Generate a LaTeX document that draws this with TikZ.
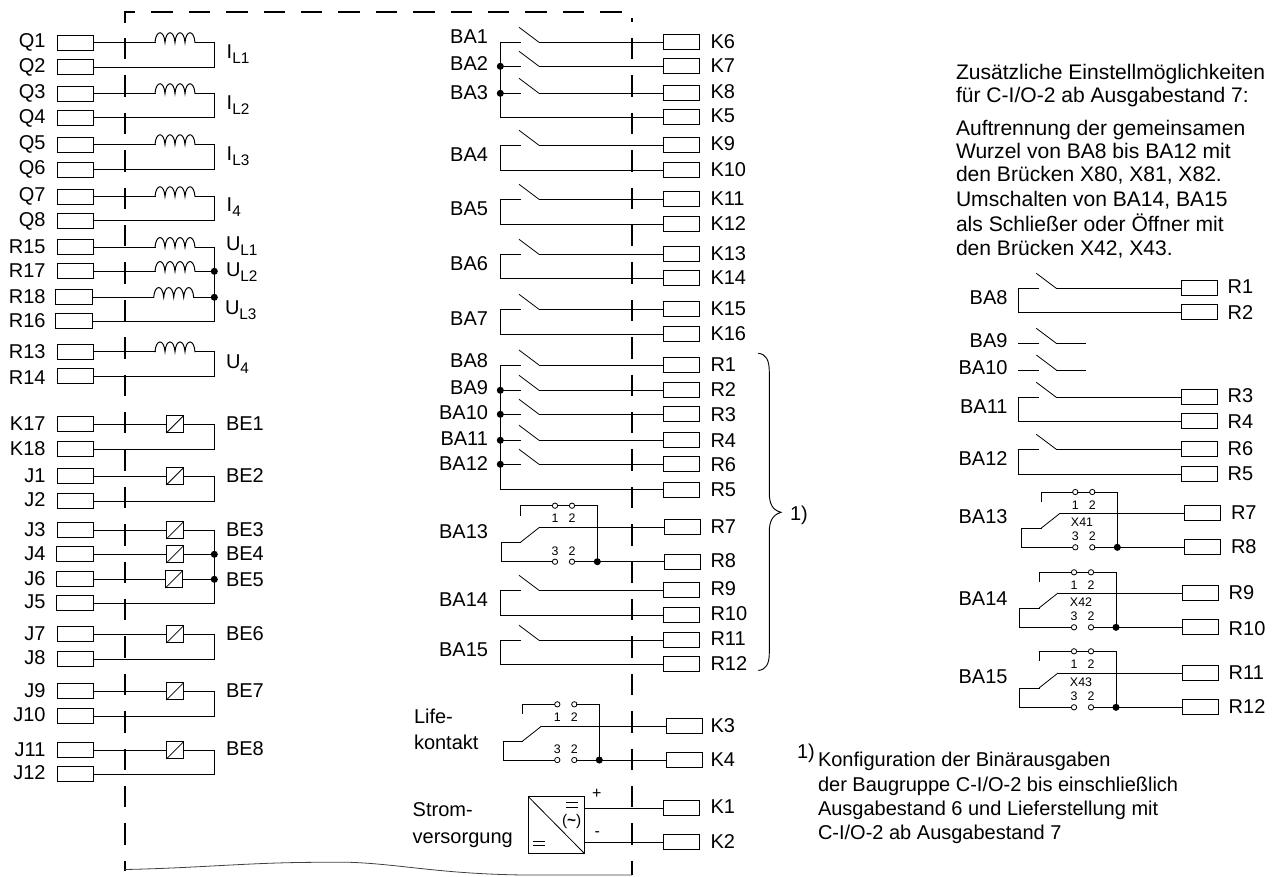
\documentclass[tikz,border=0pt]{standalone}
\usepackage{fontspec}
\setmainfont{Liberation Sans}
\newcommand{\lsize}{\fontsize{15pt}{18pt}\selectfont}
\newcommand{\nsub}[1]{\raisebox{-3.8pt}{\fontsize{11.5pt}{12pt}\selectfont #1}}
\tikzset{
  wire/.style={line width=0.75pt,line cap=rect},
  fine/.style={line width=0.6pt},
  frame/.style={line width=1.5pt,dash pattern=on 16.1pt off 11.95pt},
  term/.style={draw,line width=0.75pt,inner sep=0pt,outer sep=0pt,minimum width=27.4pt,minimum height=11.25pt},
  conv/.style={draw,line width=0.75pt,inner sep=0pt,outer sep=0pt,minimum size=13pt},
  jdot/.style={circle,fill=black,inner sep=0pt,outer sep=0pt,minimum size=5.3pt},
  ring/.style={circle,draw,fill=white,line width=0.6pt,inner sep=0pt,outer sep=0pt,minimum size=4pt},
  lab/.style={inner sep=0pt,outer sep=0pt,font=\lsize},
  labw/.style={lab,anchor=base west},
  labe/.style={lab,anchor=base east},
  note/.style={inner sep=0pt,outer sep=0pt,anchor=base west,font=\fontsize{15.8pt}{18pt}\selectfont},
  num/.style={inner sep=0pt,outer sep=0pt,anchor=base,font=\fontsize{9.3pt}{10pt}\selectfont}
}
% inductor: two named coordinates and four humps
\newcommand{\coil}[3]{%
  \coordinate (#1a) at (#2,#3);
  \coordinate (#1b) at (#2+40,#3);
  \draw[wire] (#1a) .. controls +(1,-13) and +(-1,-13) .. ++(10,0)
     .. controls +(1,-13) and +(-1,-13) .. ++(10,0)
     .. controls +(1,-13) and +(-1,-13) .. ++(10,0)
     .. controls +(1,-13) and +(-1,-13) .. ++(10,0);}
% make contact: #1 name, #2 blade root x, #3 row y, #4 terminal
\newcommand{\contact}[4]{%
  \coordinate (#1i) at (#2+1.7,#3);
  \coordinate (#1o) at (#2+20,#3);
  \coordinate (#1p) at (#2,#3-15);
  \draw[fine] (#1p) -- (#1o);
  \draw[wire] (#1o) -- (#4);}
% return loop: #1 contact name, #2 rail x, #3 row of return, #4 terminal
\newcommand{\loopback}[4]{%
  \coordinate (#1r) at (#2,#3);
  \draw[wire] (#1i) -| (#1r) -- (#4);}
% change-over: #1 name, #2 left x, #3 root x, #4 ring 1 x, #5 right x, #6 jumper y, #7 top row, #8 bottom row
\newcommand{\changeover}[8]{%
  \coordinate (#1j) at (#3,#6+9.5);
  \coordinate (#1m) at (#3,#7+15);
  \coordinate (#1t) at (#3+19,#7);
  \coordinate (#1l) at (#2,#7+15);
  \node[ring] (#1ua) at (#4,#6) {};
  \node[ring] (#1ub) at (#4+17,#6) {};
  \node[ring] (#1da) at (#4,#8) {};
  \node[ring] (#1db) at (#4+17,#8) {};
  \node[jdot] (#1dot) at (#5,#8) {};
  \coordinate (#1c) at (#3,#6);
  \coordinate (#1e) at (#5,#6);
  \draw[wire] (#1j) -- (#1c) -- (#1ua);
  \draw[wire] (#1ub) -- (#1e) -- (#1dot);
  \draw[wire] (#1m) -- (#1l) |- (#1da);
  \draw[wire] (#1db) -- (#1dot);
  \draw[fine] (#1m) -- (#1t);
  \node[num] (#1na) at (#4,#6+17) {1};
  \node[num] (#1nb) at (#4+17,#6+17) {2};
  \node[num] (#1nc) at (#4,#8-6.5) {3};
  \node[num] (#1nd) at (#4+17,#8-6.5) {2};}
\begin{document}
\begin{tikzpicture}[x=0.75pt,y=-0.75pt]
\useasboundingbox (0,0) rectangle (1274,876);

% --- housing frame
\draw[frame] (124.7,22.7) -- (124.7,12) -- (632,12) -- (632,22);
\draw[frame] (124.7,38) -- (124.7,870.7);
\draw[frame] (632,38) -- (632,875);
\draw[line width=0.6pt,black!75] (124.7,869.5) .. controls (200,868) and (250,862.3) .. (320,862.3) -- (350,862.3) .. controls (400,864) and (440,874) .. (525,875) -- (632,875);

% --- left terminals
\foreach \n/\y/\c/\b in {Q1/42.5/75.7/47.5,Q2/67.3/75.7/72.7,Q3/93.5/75.7/98.7,Q4/117.5/75.7/123,Q5/144.5/75.7/149.7,Q6/169.5/75.7/174.7,Q7/196.5/75.7/201.5,Q8/220.5/75.7/226,
  R15/247.3/75.7/253,R17/271.3/75.7/277,R18/297.3/73.8/303,R16/321/73.8/327.3,R13/351.7/75.7/358,R14/376.3/75.7/384,
  K17/424.3/75.7/430,K18/449.3/75.7/455,J1/476.3/75.7/482,J2/501.3/75.7/506,J3/530.3/75.7/536,J4/554.3/75/560.3,J6/579.3/75/585.3,J5/603.3/75/608.3,
  J7/634.3/75.7/640,J8/659.3/75.7/664.7,J9/691.3/75.7/697.3,J10/716.3/75.7/721.7,J11/750.3/75.7/756,J12/774.3/75.7/779.7}
{ \node[term] (tL\n) at (\c,\y) {};
  \node[labe] (lL\n) at (45.5,\b) {\n}; }

% --- current / voltage inputs
\coil{cQ1}{155}{42.5}  \coil{cQ3}{155}{93.5}  \coil{cQ5}{155}{144.5} \coil{cQ7}{155}{196.5}
\coil{cRa}{155}{247.3} \coil{cRb}{155}{271.3} \coil{cRc}{153.7}{297.3} \coil{cRd}{155}{351.7}
\draw[wire] (tLQ1.east) -- (cQ1a);
\draw[wire] (tLQ3.east) -- (cQ3a);
\draw[wire] (tLQ5.east) -- (cQ5a);
\draw[wire] (tLQ7.east) -- (cQ7a);
\draw[wire] (tLR15.east) -- (cRaa);
\draw[wire] (tLR17.east) -- (cRba);
\draw[wire] (tLR18.east) -- (cRca);
\draw[wire] (tLR13.east) -- (cRda);
\coordinate (rQa) at (214.3,67.3);  \draw[wire] (cQ1b) -| (rQa) -- (tLQ2.east);
\coordinate (rQb) at (214.3,117.5); \draw[wire] (cQ3b) -| (rQb) -- (tLQ4.east);
\coordinate (rQc) at (214.3,169.5); \draw[wire] (cQ5b) -| (rQc) -- (tLQ6.east);
\coordinate (rQd) at (214.3,220.5); \draw[wire] (cQ7b) -| (rQd) -- (tLQ8.east);
\coordinate (rRa) at (214.3,321);   \draw[wire] (cRab) -| (rRa) -- (tLR16.east);
\coordinate (rRd) at (214.3,376.3); \draw[wire] (cRdb) -| (rRd) -- (tLR14.east);
\node[jdot] (dRb) at (214.3,271.3) {};
\node[jdot] (dRc) at (214.3,297.3) {};
\draw[wire] (cRbb) -- (dRb);
\draw[wire] (cRcb) -- (dRc);

\node[labw] (nIa) at (226.7,58) {I\nsub{L1}};
\node[labw] (nIb) at (226.7,109) {I\nsub{L2}};
\node[labw] (nIc) at (226.7,160.7) {I\nsub{L3}};
\node[labw] (nId) at (226.7,211.7) {I\nsub{4}};
\node[labw] (nUa) at (226,250) {U\nsub{L1}};
\node[labw] (nUb) at (226,276.7) {U\nsub{L2}};
\node[labw] (nUc) at (225,314) {U\nsub{L3}};
\node[labw] (nUd) at (226,368.3) {U\nsub{4}};

% --- binary inputs
\foreach \n/\t/\x/\y in {a/K17/175/424.3,b/J1/175/476.3,c/J3/175/530.3,d/J4/175/554.3,e/J6/174/579.3,f/J7/175/634.3,g/J9/175/691.3,h/J11/175/750.3}
{ \node[conv] (b\n) at (\x,\y) {};
  \draw[fine] (b\n.south west) -- (b\n.north east);
  \draw[wire] (tL\t.east) -- (b\n.west); }
\coordinate (rBa) at (214.3,449.3); \draw[wire] (ba.east) -| (rBa) -- (tLK18.east);
\coordinate (rBb) at (214.3,501.3); \draw[wire] (bb.east) -| (rBb) -- (tLJ2.east);
\coordinate (rBc) at (214.3,603.3); \draw[wire] (bc.east) -| (rBc) -- (tLJ5.east);
\coordinate (rBf) at (214.3,659.3); \draw[wire] (bf.east) -| (rBf) -- (tLJ8.east);
\coordinate (rBg) at (214.3,716.3); \draw[wire] (bg.east) -| (rBg) -- (tLJ10.east);
\coordinate (rBh) at (214.3,774.3); \draw[wire] (bh.east) -| (rBh) -- (tLJ12.east);
\node[jdot] (dBd) at (214.3,554.3) {};
\node[jdot] (dBe) at (214.3,579.3) {};
\draw[wire] (bd.east) -- (dBd);
\draw[wire] (be.east) -- (dBe);
\foreach \n/\b in {1/430,2/482.7,3/536.7,4/560.7,5/586,6/640,7/697.3,8/755}
{ \node[labw] (nBE\n) at (226,\b) {BE\n}; }

% --- middle terminals
\foreach \n/\y/\c/\b in {K6/42.3/681.3/48,K7/66.3/681.3/72.3,K8/93.3/681.3/98.3,K5/117.3/681.3/122,K9/145.3/681.3/150.5,K10/170.3/681.3/176,K11/199.3/681.3/205,K12/224.3/681.3/230,
  K13/254.3/681.3/260,K14/278.3/681.3/284,K15/309.3/681.3/315,K16/334/681.3/340,
  R1/365/681.3/371.7,R2/390.3/681.3/396,R3/414.3/681.3/421.7,R4/440.3/681.3/447.3,R6/464.3/681.3/471.7,R5/489.7/681.3/496.7,
  R7/527.3/682.3/533.3,R8/561.7/682.3/567.3,R9/590.3/681.3/595,R10/615.3/681.3/620.7,R11/640.3/681.3/645,R12/664.3/681.3/670.7,
  K3/726.3/684.7/732.7,K4/760/684.7/766,K1/808.3/681.7/813.3,K2/842.3/681.7/848.3}
{ \node[term] (tM\n) at (\c,\y) {};
  \node[labw] (lM\n) at (710.5,\b) {\n}; }

% --- relay outputs, first group
\contact{ca}{519}{42.3}{tMK6.west}
\contact{cb}{519}{66.3}{tMK7.west}
\contact{cc}{519}{93.3}{tMK8.west}
\coordinate (ratop) at (500.3,42.3);
\coordinate (rabot) at (500.3,117.3);
\draw[wire] (cai) -- (ratop) -- (rabot) -- (tMK5.west);
\node[jdot] (dca) at (500.3,66.3) {};
\node[jdot] (dcb) at (500.3,93.3) {};
\draw[wire] (dca) -- (cbi);
\draw[wire] (dcb) -- (cci);

\contact{cd}{519}{145.3}{tMK9.west}  \loopback{cd}{500.3}{170.3}{tMK10.west}
\contact{ce}{519}{199.3}{tMK11.west} \loopback{ce}{500.3}{224.3}{tMK12.west}
\contact{cf}{519}{254.3}{tMK13.west} \loopback{cf}{500.3}{278.3}{tMK14.west}
\contact{cg}{519}{309.3}{tMK15.west} \loopback{cg}{500.3}{334}{tMK16.west}

% --- relay outputs, second group
\contact{ch}{519}{365}{tMR1.west}
\contact{ci}{519}{390.3}{tMR2.west}
\contact{cj}{519}{414.3}{tMR3.west}
\contact{ck}{519}{440.3}{tMR4.west}
\contact{cl}{519}{464.3}{tMR6.west}
\coordinate (rbtop) at (500.3,365);
\coordinate (rbbot) at (500.3,489.7);
\draw[wire] (chi) -- (rbtop) -- (rbbot) -- (tMR5.west);
\node[jdot] (dci) at (500.3,390.3) {};
\node[jdot] (dcj) at (500.3,414.3) {};
\node[jdot] (dck) at (500.3,440.3) {};
\node[jdot] (dcl) at (500.3,464.3) {};
\draw[wire] (dci) -- (cii);
\draw[wire] (dcj) -- (cji);
\draw[wire] (dck) -- (cki);
\draw[wire] (dcl) -- (cli);

\changeover{mm}{501.3}{520.5}{555}{597.3}{505.7}{527.3}{561.7}
\draw[wire] (mmua) -- (mmub);
\draw[wire] (mmt) -- (tMR7.west);
\draw[wire] (mmdot) -- (tMR8.west);

\contact{cn}{519}{590.3}{tMR9.west}  \loopback{cn}{500.3}{615.3}{tMR10.west}
\contact{co}{519}{640.3}{tMR11.west} \loopback{co}{500.3}{664.3}{tMR12.west}

\changeover{ll}{503.3}{522.3}{557.3}{599.3}{704.3}{726.3}{760}
\draw[wire] (llt) -- (tMK3.west);
\draw[wire] (lldot) -- (tMK4.west);

% --- middle labels
\foreach \n/\b in {1/43.3,2/70.7,3/99.3,4/161.7,5/215,6/270.7,7/325.7,8/367.3,9/394,10/419.3,11/445,12/470.7,13/538.3,14/606.7,15/656.7}
{ \node[labe] (nBA\n) at (488,\b) {BA\n}; }
\node[labw] (nLa) at (414,723.3) {Life-};
\node[labw] (nLb) at (414,749) {kontakt};
\node[labw] (nSa) at (412.7,816.7) {Strom-};
\node[labw] (nSb) at (412.7,843.3) {versorgung};

% --- brace
\draw[line width=0.7pt] (758.3,353.3) .. controls (766,354) and (769.3,360) .. (769.3,372) -- (769.3,493) .. controls (769.3,503) and (772,510) .. (781,512.3) .. controls (772,515) and (769.3,522) .. (769.3,532) -- (769.3,653) .. controls (769.3,664) and (766,669.5) .. (758.3,670.5);
\node[labw] (nBr) at (790,520) {1)};

% --- power supply
\node[draw,line width=0.75pt,inner sep=0pt,outer sep=0pt,minimum width=42pt,minimum height=42.5pt] (psu) at (556.3,825) {};
\draw[fine] (psu.north west) -- (psu.south east);
\coordinate (pa) at (584.3,808.3);
\coordinate (pb) at (584.3,842.3);
\draw[wire] (pa) -- (tMK1.west);
\draw[wire] (pb) -- (tMK2.west);
\coordinate (ea) at (566,802.7); \coordinate (eb) at (577.7,802.7);
\coordinate (ec) at (566,807.3); \coordinate (ed) at (577.7,807.3);
\coordinate (ee) at (533.3,841.3); \coordinate (ef) at (545,841.3);
\coordinate (eg) at (533.3,845.7); \coordinate (eh) at (545,845.7);
\draw[fine] (ea) -- (eb) (ec) -- (ed) (ee) -- (ef) (eg) -- (eh);
\node[inner sep=0pt,font=\fontsize{11.5pt}{12pt}\selectfont] (pt) at (571.7,821.7) {(\textbf{\char"7E})};
\node[inner sep=0pt,font=\fontsize{12pt}{12pt}\selectfont] (pp) at (596.7,794.3) {+};
\node[inner sep=0pt,font=\fontsize{12pt}{12pt}\selectfont] (pm) at (597.3,834) {-};

% --- right hand text
\node[note] (ta) at (956,79) {Zusätzliche Einstellmöglichkeiten};
\node[note] (tb) at (956,102.7) {für C-I/O-2 ab Ausgabestand 7:};
\node[note] (tc) at (956,135) {Auftrennung der gemeinsamen};
\node[note] (td) at (956,158.3) {Wurzel von BA8 bis BA12 mit};
\node[note] (te) at (956,181) {den Brücken X80, X81, X82.};
\node[note] (tf) at (956,206.7) {Umschalten von BA14, BA15};
\node[note] (tg) at (956,231) {als Schließer oder Öffner mit};
\node[note] (th) at (956,255) {den Brücken X42, X43.};

% --- right hand detail terminals
\foreach \n/\y/\c/\b in {R1/288.3/1199.5/293.3,R2/312.3/1199.5/319.3,R3/397.3/1199.5/402.7,R4/421.3/1199.5/428.3,R6/449.3/1199.5/455,R5/474.3/1199.5/480}
{ \node[term] (tX\n) at (\c,\y) {};
  \node[labw] (lX\n) at (1227.7,\b) {\n}; }
\foreach \n/\y/\c/\l/\b in {R7/513.3/1202.7/1231/519.3,R8/547.3/1202.7/1231/553.3,R9/593/1200.7/1228.7/599.3,R10/627.3/1200.7/1228.7/635,R11/673/1200.7/1228.7/679.3,R12/707.3/1200.7/1228.7/713.3}
{ \node[term] (tX\n) at (\c,\y) {};
  \node[labw] (lX\n) at (\l,\b) {\n}; }

\contact{xa}{1036.3}{288.3}{tXR1.west}   \loopback{xa}{1018.3}{312.3}{tXR2.west}
\coordinate (xbe) at (1085,343.3); \coordinate (xce) at (1085,370);
\contact{xb}{1036.3}{343.3}{xbe}
\contact{xc}{1036.3}{370}{xce}
\coordinate (xbs) at (1018.3,343.3); \coordinate (xcs) at (1018.3,370);
\draw[wire] (xbs) -- (xbi);
\draw[wire] (xcs) -- (xci);
\contact{xd}{1036.3}{397.3}{tXR3.west}   \loopback{xd}{1018.3}{421.3}{tXR4.west}
\contact{xe}{1036.3}{449.3}{tXR6.west}   \loopback{xe}{1018.3}{474.3}{tXR5.west}

\changeover{xf}{1021.3}{1041}{1075.3}{1117.3}{492}{513.3}{547.3}
\draw[wire] (xfua) -- (xfub);
\draw[wire] (xft) -- (tXR7.west);
\draw[wire] (xfdot) -- (tXR8.west);
\node[num] (xfx) at (1082,526.7) {X41};
\changeover{xg}{1019.3}{1039}{1074}{1116}{572.3}{593}{627.3}
\draw[wire] (xgua) -- (xgub);
\draw[wire] (xgt) -- (tXR9.west);
\draw[wire] (xgdot) -- (tXR10.west);
\node[num] (xgx) at (1081,606.7) {X42};
\changeover{xh}{1019.3}{1039}{1074}{1116}{651.3}{673}{707.3}
\draw[wire] (xhua) -- (xhub);
\draw[wire] (xht) -- (tXR11.west);
\draw[wire] (xhdot) -- (tXR12.west);
\node[num] (xhx) at (1081,686.7) {X43};

\foreach \n/\b in {8/304.3,9/347.3,10/374,11/413.3,12/465.7,13/523.3,14/605,15/683.3}
{ \node[labe] (xBA\n) at (1007.5,\b) {BA\n}; }

% --- footnote
\node[labw] (fa) at (797,758) {1)};
\node[labw] (fb) at (818,766.7) {Konfiguration der Binärausgaben};
\node[labw] (fc) at (818,791.7) {der Baugruppe C-I/O-2 bis einschließlich};
\node[labw] (fd) at (818,815) {Ausgabestand 6 und Lieferstellung mit};
\node[labw] (fe) at (818,839) {C-I/O-2 ab Ausgabestand 7};
\end{tikzpicture}
\end{document}
